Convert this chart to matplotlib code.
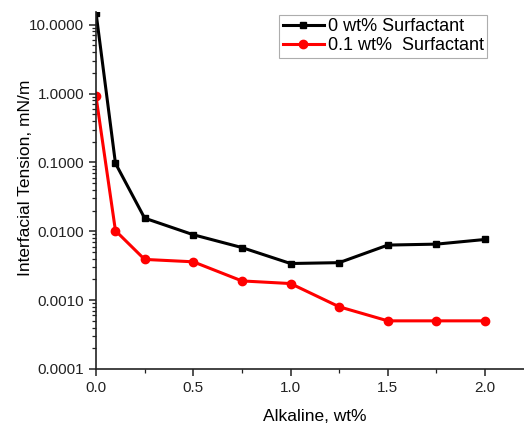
import matplotlib
matplotlib.use("Agg")
import matplotlib.pyplot as plt
from matplotlib.ticker import FixedLocator, FormatStrFormatter, LogLocator, NullFormatter

# ---------------------------
# DATA
# ---------------------------
alkaline = [0.0, 0.1, 0.25, 0.5, 0.75, 1.0, 1.25, 1.5, 1.75, 2.0]
ift_0 = [15.0, 0.097, 0.0155, 0.0089, 0.0058, 0.0034, 0.0035, 0.0063, 0.0065, 0.0076]
ift_01 = [0.91, 0.0102, 0.0039, 0.0036, 0.0019, 0.00174, 0.0008, 0.0005, 0.0005, 0.0005]
labels = ["0 wt% Surfactant", "0.1 wt%  Surfactant"]
y_ticks = [0.0001, 0.001, 0.01, 0.1, 1, 10]
x_ticks = [0.0, 0.5, 1.0, 1.5, 2.0]

plt.rcParams["font.family"] = ["Liberation Sans", "DejaVu Sans"]

fig = plt.figure(figsize=(5.24, 4.23), dpi=100)
ax = fig.add_axes([0.1832, 0.1277, 0.8168, 0.845])

ax.plot(alkaline, ift_0, color="black", lw=2.2, marker="s", ms=5, label=labels[0])
ax.plot(alkaline, ift_01, color="#ff0000", lw=2.2, marker="o", ms=6, label=labels[1])

ax.set_yscale("log")
ax.set_xlim(0, 2.2)
ax.set_ylim(0.0001, 15.5)
ax.yaxis.set_major_locator(FixedLocator(y_ticks))
ax.yaxis.set_major_formatter(FormatStrFormatter("%.4f"))
ax.yaxis.set_minor_locator(LogLocator(base=10, subs=range(2, 10)))
ax.yaxis.set_minor_formatter(NullFormatter())
ax.xaxis.set_major_locator(FixedLocator(x_ticks))
ax.xaxis.set_major_formatter(FormatStrFormatter("%.1f"))
ax.xaxis.set_minor_locator(FixedLocator([0.25, 0.75, 1.25, 1.75]))

for side in ["top", "right"]:
    ax.spines[side].set_visible(False)
for side in ["left", "bottom"]:
    ax.spines[side].set_linewidth(1.2)
    ax.spines[side].set_color("#222222")

ax.tick_params(which="major", direction="out", length=5, width=1.1, labelsize=11, colors="#222222")
ax.tick_params(which="minor", direction="out", length=3, width=0.9, colors="#222222")

ax.set_xlabel("Alkaline, wt%", fontsize=12.5)
ax.set_ylabel("Interfacial Tension, mN/m", fontsize=12.5)
ax.xaxis.set_label_coords(0.512, -0.112)
ax.yaxis.set_label_coords(-0.147, 0.535)

leg = ax.legend(loc="upper left", bbox_to_anchor=(0.4276, 0.9916), fontsize=13,
                frameon=True, fancybox=False, edgecolor="#999999",
                handlelength=2.3, handletextpad=0.2, borderpad=0.2,
                labelspacing=0.1, borderaxespad=0.0)
leg.get_frame().set_linewidth(0.8)

fig.savefig("out.png", dpi=100)
